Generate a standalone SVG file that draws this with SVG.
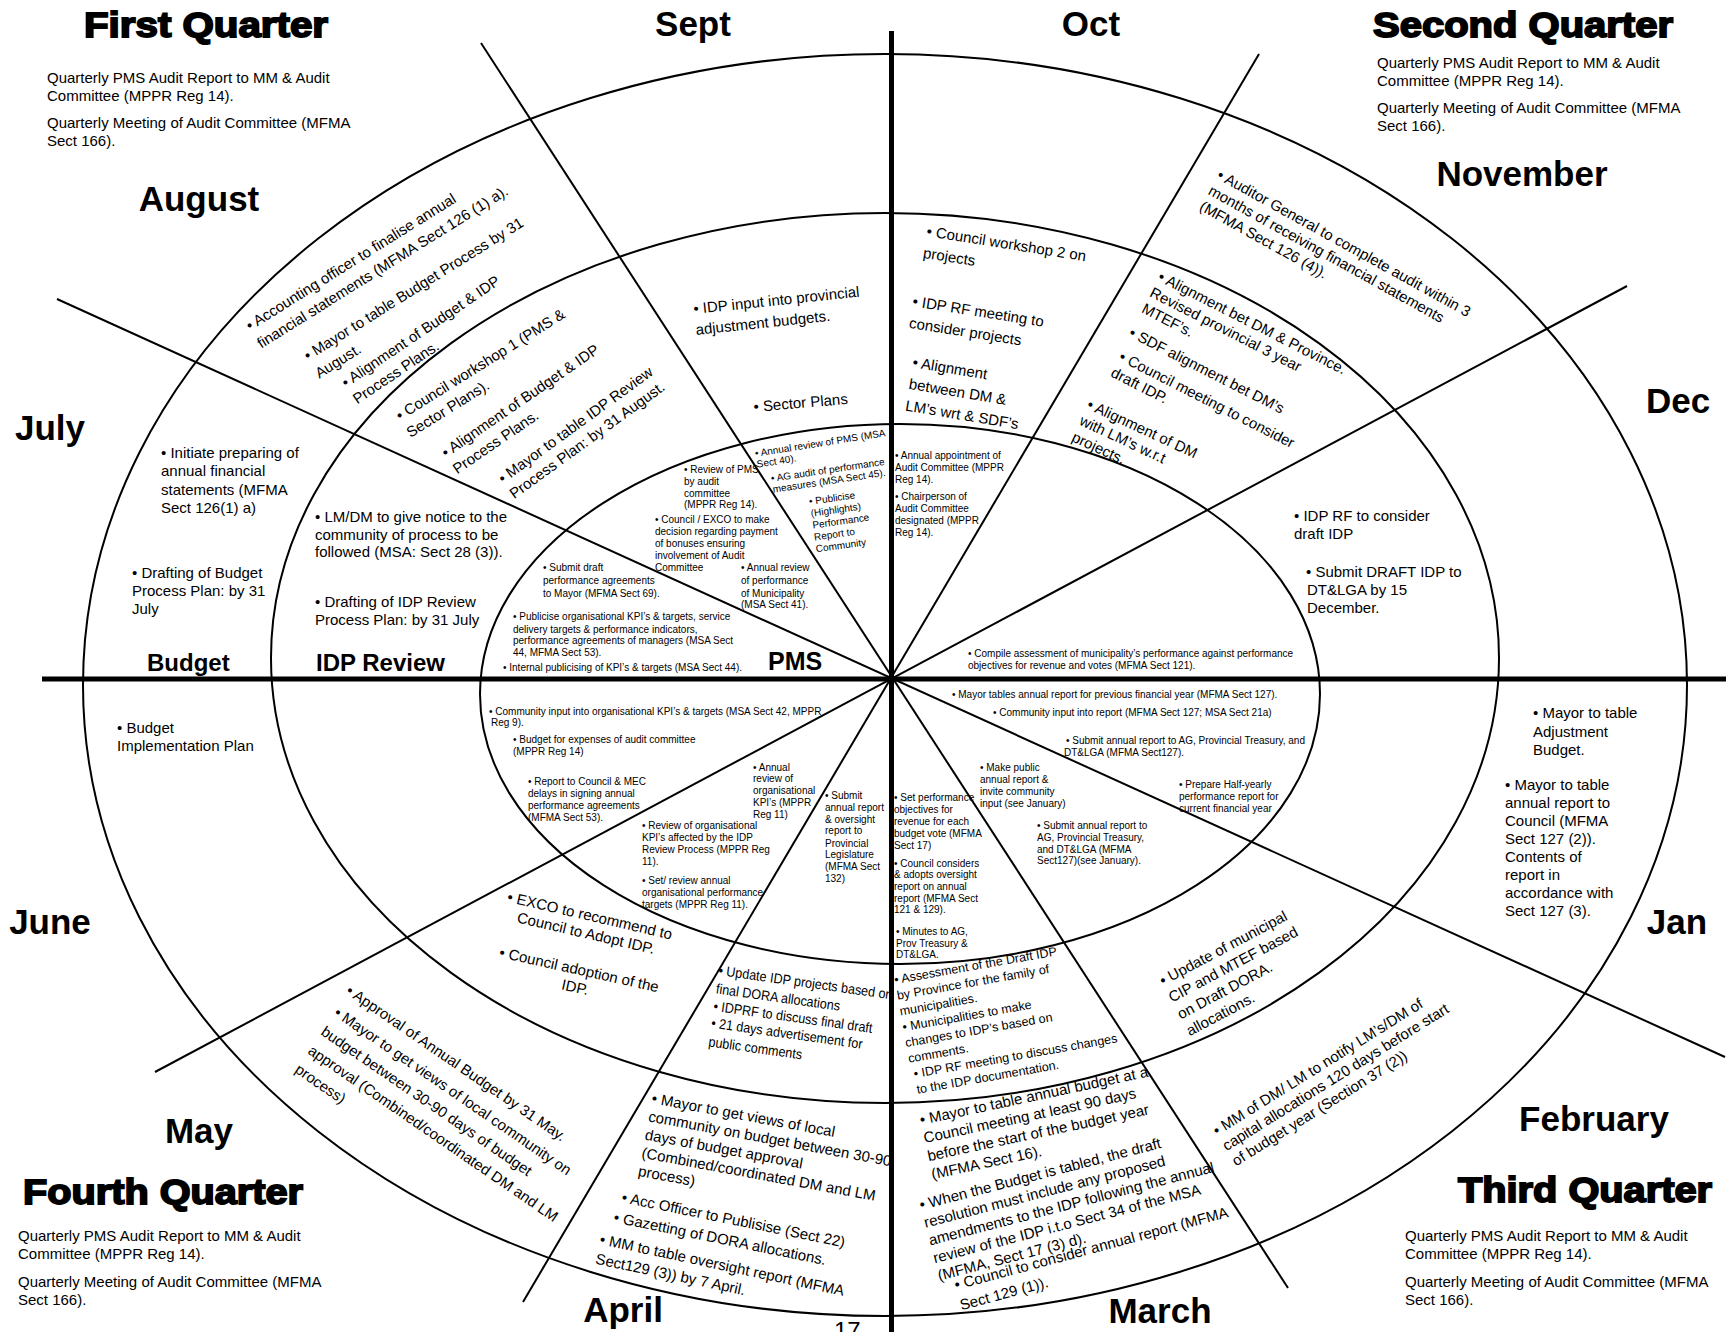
<svg xmlns="http://www.w3.org/2000/svg" width="1726" height="1332" viewBox="0 0 1726 1332">
<style>
text{font-family:"Liberation Sans",Arial,sans-serif;fill:#000}
.q{font-size:35px;font-weight:bold;stroke:#000;stroke-width:1.8}
.m{font-size:35px;font-weight:bold;text-anchor:middle}
.s{font-size:24px;font-weight:bold}
.t{font-size:15px}
.k{font-size:14px}
.c{font-size:12.5px}
.i{font-size:10px}
.mid{text-anchor:middle}
.ax{stroke:#000;stroke-width:5}
.ln{stroke:#000;stroke-width:2;fill:none}
</style>
<rect width="1726" height="1332" fill="#fff"/>
<g id="wheel">
<ellipse class="ln" cx="885" cy="685" rx="802" ry="631"/>
<ellipse class="ln" cx="885" cy="658" rx="614" ry="445"/>
<ellipse class="ln" cx="900" cy="694" rx="420" ry="270"/>
</g>
<g id="connectors">
<line class="ln" x1="481" y1="43" x2="1288" y2="1288"/>
<line class="ln" x1="57" y1="299" x2="1725" y2="1057"/>
<line class="ln" x1="1627" y1="286" x2="155" y2="1072"/>
<line class="ln" x1="1259" y1="54" x2="523" y2="1302"/>
<line class="ax" x1="891.5" y1="31" x2="891.5" y2="1332"/>
<line class="ax" x1="42" y1="679" x2="1726" y2="679"/>
</g>

<g id="quarter1">
<text class="q" x="84" y="37" textLength="244" lengthAdjust="spacingAndGlyphs">First Quarter</text>
<text class="t" x="47" y="83">Quarterly PMS Audit Report to MM &amp; Audit</text>
<text class="t" x="47" y="101">Committee (MPPR Reg 14).</text>
<text class="t" x="47" y="128">Quarterly Meeting of Audit Committee (MFMA</text>
<text class="t" x="47" y="146">Sect 166).</text>
</g>
<g id="quarter2">
<text class="q" x="1373" y="37" textLength="300" lengthAdjust="spacingAndGlyphs">Second Quarter</text>
<text class="t" x="1377" y="68">Quarterly PMS Audit Report to MM &amp; Audit</text>
<text class="t" x="1377" y="86">Committee (MPPR Reg 14).</text>
<text class="t" x="1377" y="113">Quarterly Meeting of Audit Committee (MFMA</text>
<text class="t" x="1377" y="131">Sect 166).</text>
</g>
<g id="quarter4">
<text class="q" x="23" y="1204" textLength="280" lengthAdjust="spacingAndGlyphs">Fourth Quarter</text>
<text class="t" x="18" y="1241">Quarterly PMS Audit Report to MM &amp; Audit</text>
<text class="t" x="18" y="1259">Committee (MPPR Reg 14).</text>
<text class="t" x="18" y="1287">Quarterly Meeting of Audit Committee (MFMA</text>
<text class="t" x="18" y="1305">Sect 166).</text>
</g>
<g id="quarter3">
<text class="q" x="1458" y="1202" textLength="254" lengthAdjust="spacingAndGlyphs">Third Quarter</text>
<text class="t" x="1405" y="1241">Quarterly PMS Audit Report to MM &amp; Audit</text>
<text class="t" x="1405" y="1259">Committee (MPPR Reg 14).</text>
<text class="t" x="1405" y="1287">Quarterly Meeting of Audit Committee (MFMA</text>
<text class="t" x="1405" y="1305">Sect 166).</text>
</g>

<g id="months">
<text class="m" x="693" y="36">Sept</text>
<text class="m" x="1091" y="36">Oct</text>
<text class="m" x="199" y="211">August</text>
<text class="m" x="1522" y="186">November</text>
<text class="m" x="50" y="440">July</text>
<text class="m" x="1678" y="413">Dec</text>
<text class="m" x="50" y="934">June</text>
<text class="m" x="1677" y="934">Jan</text>
<text class="m" x="199" y="1143">May</text>
<text class="m" x="1594" y="1131">February</text>
<text class="m" x="623" y="1322">April</text>
<text class="m" x="1160" y="1323">March</text>
</g>

<g id="sections">
<text class="s" x="147" y="671">Budget</text>
<text class="s" x="316" y="671">IDP Review</text>
<text class="s" x="768" y="670" style="font-size:25px">PMS</text>
</g>

<g id="aug-outer">
<text class="t" transform="translate(250,331) rotate(-32)"><tspan x="0" y="0">• Accounting officer to finalise annual</tspan><tspan x="0" y="21">financial statements (MFMA Sect 126 (1) a).</tspan></text>
<text class="t" transform="translate(308,361) rotate(-32)"><tspan x="0" y="0">• Mayor to table Budget Process by 31</tspan><tspan x="0" y="21">August.</tspan></text>
<text class="t" transform="translate(346,388) rotate(-34)"><tspan x="0" y="0">• Alignment of Budget &amp; IDP</tspan><tspan x="0" y="20">Process Plans.</tspan></text>
</g>
<g id="aug-middle">
<text class="t" transform="translate(400,421) rotate(-32)"><tspan x="0" y="0">• Council workshop 1 (PMS &amp;</tspan><tspan x="0" y="20">Sector Plans).</tspan></text>
<text class="t" transform="translate(446,458) rotate(-34.5)"><tspan x="0" y="0">• Alignment of Budget &amp; IDP</tspan><tspan x="0" y="20">Process Plans.</tspan></text>
<text class="t" transform="translate(503,484) rotate(-36)"><tspan x="0" y="0">• Mayor to table IDP Review</tspan><tspan x="0" y="19">Process Plan: by 31 August.</tspan></text>
</g>
<g id="sept-middle">
<text class="t" transform="translate(694,314) rotate(-6)"><tspan x="0" y="0">• IDP input into provincial</tspan><tspan x="0" y="21">adjustment budgets.</tspan></text>
<text class="t" transform="translate(754,412) rotate(-5)">• Sector Plans</text>
</g>
<g id="oct-middle">
<text class="t" transform="translate(926,236) rotate(9)"><tspan x="0" y="0">• Council workshop 2 on</tspan><tspan x="0" y="22">projects</tspan></text>
<text class="t" transform="translate(912,306) rotate(9)"><tspan x="0" y="0">• IDP RF meeting to</tspan><tspan x="0" y="22">consider projects</tspan></text>
<text class="t" transform="translate(912,367) rotate(9.5)"><tspan x="0" y="0">• Alignment</tspan><tspan x="0" y="22">between DM &amp;</tspan><tspan x="0" y="44">LM’s wrt &amp; SDF’s</tspan></text>
</g>
<g id="nov-outer">
<text class="t" transform="translate(1216,178) rotate(29)"><tspan x="0" y="0">• Auditor General to complete audit within 3</tspan><tspan x="0" y="18">months of receiving financial statements</tspan><tspan x="0" y="36">(MFMA Sect 126 (4)).</tspan></text>
</g>
<g id="nov-middle">
<text class="t" transform="translate(1157,280) rotate(27)"><tspan x="0" y="0">• Alignment bet DM &amp; Province.</tspan><tspan x="0" y="18">Revised provincial 3 year</tspan><tspan x="0" y="36">MTEF’s.</tspan></text>
<text class="t" transform="translate(1128,336) rotate(27)">• SDF alignment bet DM’s</text>
<text class="t" transform="translate(1118,360) rotate(27)"><tspan x="0" y="0">• Council meeting to consider</tspan><tspan x="0" y="18">draft IDP.</tspan></text>
<text class="t" transform="translate(1086,408) rotate(25)"><tspan x="0" y="0">• Alignment of DM</tspan><tspan x="0" y="18">with LM’s w.r.t</tspan><tspan x="0" y="36">projects.</tspan></text>
</g>
<g id="dec-middle">
<text class="t" x="1294" y="521">• IDP RF to consider</text>
<text class="t" x="1294" y="539">draft IDP</text>
<text class="t" x="1306" y="577">• Submit DRAFT IDP to</text>
<text class="t" x="1307" y="595">DT&amp;LGA by 15</text>
<text class="t" x="1307" y="613">December.</text>
</g>
<g id="jan-outer">
<text class="t" x="1533" y="718">• Mayor to table</text>
<text class="t" x="1533" y="737">Adjustment</text>
<text class="t" x="1533" y="755">Budget.</text>
<text class="t" x="1505" y="790">• Mayor to table</text>
<text class="t" x="1505" y="808">annual report to</text>
<text class="t" x="1505" y="826">Council (MFMA</text>
<text class="t" x="1505" y="844">Sect 127 (2)).</text>
<text class="t" x="1505" y="862">Contents of</text>
<text class="t" x="1505" y="880">report in</text>
<text class="t" x="1505" y="898">accordance with</text>
<text class="t" x="1505" y="916">Sect 127 (3).</text>
</g>
<g id="feb-middle">
<text class="t" transform="translate(1163,986) rotate(-28)"><tspan x="0" y="0">• Update of municipal</tspan><tspan x="0" y="19">CIP and MTEF based</tspan><tspan x="0" y="38">on Draft DORA.</tspan><tspan x="0" y="57">allocations.</tspan></text>
</g>
<g id="feb-outer">
<text class="t" transform="translate(1217,1136) rotate(-32)"><tspan x="0" y="0">• MM of DM/ LM to notify LM’s/DM of</tspan><tspan x="0" y="18">capital allocations 120 days before start</tspan><tspan x="0" y="36">of budget year (Section 37 (2))</tspan></text>
</g>
<g id="mar-outer">
<text class="t" transform="translate(921,1125) rotate(-12)"><tspan x="0" y="0">• Mayor to table annual budget at a</tspan><tspan x="0" y="18.5">Council meeting at least 90 days</tspan><tspan x="0" y="37">before the start of the budget year</tspan><tspan x="0" y="55.5">(MFMA Sect 16).</tspan></text>
<text class="t" transform="translate(921,1210) rotate(-14.5)"><tspan x="0" y="0">• When the Budget is tabled, the draft</tspan><tspan x="0" y="18.3">resolution must include any proposed</tspan><tspan x="0" y="36.6">amendments to the IDP following the annual</tspan><tspan x="0" y="55">review of the IDP i.t.o Sect 34 of the MSA</tspan><tspan x="0" y="73">(MFMA, Sect 17 (3) d).</tspan></text>
<text class="t" transform="translate(956,1290) rotate(-15)"><tspan x="0" y="0">• Council to consider annual report (MFMA</tspan><tspan x="0" y="21">Sect 129 (1)).</tspan></text>
</g>
<g id="mar-middle">
<text class="c" transform="translate(895,984) rotate(-10)"><tspan x="0" y="0">• Assessment of the Draft IDP</tspan><tspan x="0" y="16">by Province for the family of</tspan><tspan x="0" y="32">municipalities.</tspan><tspan x="0" y="48">• Municipalities to make</tspan><tspan x="0" y="64">changes to IDP’s based on</tspan><tspan x="0" y="80">comments.</tspan><tspan x="3" y="96">• IDP RF meeting to discuss changes</tspan><tspan x="3" y="112">to the IDP documentation.</tspan></text>
</g>
<g id="apr-middle">
<text class="k" transform="translate(718,975) rotate(8) scale(0.9,1)"><tspan x="0" y="0">• Update IDP projects based on</tspan><tspan x="0" y="18.5">final DORA allocations</tspan><tspan x="0" y="36">• IDPRF to discuss final draft</tspan><tspan x="0" y="53">• 21 days advertisement for</tspan><tspan x="0" y="72">public comments</tspan></text>
</g>
<g id="apr-outer">
<text class="t" transform="translate(651,1103) rotate(10.5)"><tspan x="0" y="0">• Mayor to get views of local</tspan><tspan x="0" y="18.5">community on budget between 30-90</tspan><tspan x="0" y="37">days of budget approval</tspan><tspan x="0" y="55.5">(Combined/coordinated DM and LM</tspan><tspan x="0" y="74">process)</tspan></text>
<text class="t" transform="translate(621,1202) rotate(11.5)">• Acc Officer to Publisise (Sect 22)</text>
<text class="t" transform="translate(613,1222) rotate(11.5)">• Gazetting of DORA allocations.</text>
<text class="t" transform="translate(599,1244) rotate(12)"><tspan x="0" y="0">• MM to table oversight report (MFMA</tspan><tspan x="0" y="20">Sect129 (3)) by 7 April.</tspan></text>
</g>
<g id="may-outer">
<text class="t" transform="translate(345,993) rotate(34.5)">• Approval of Annual Budget by 31 May.</text>
<text class="t" transform="translate(333,1015) rotate(34.5)"><tspan x="0" y="0">• Mayor to get views of local community on</tspan><tspan x="0" y="23">budget between 30-90 days of budget</tspan><tspan x="0" y="46">approval (Combined/coordinated DM and LM</tspan><tspan x="0" y="69">process)</tspan></text>
</g>
<g id="may-middle">
<text class="t mid" transform="translate(504,901) rotate(13)"><tspan x="87" y="0">• EXCO to recommend to</tspan><tspan x="87" y="18">Council to Adopt IDP.</tspan></text>
<text class="t mid" transform="translate(494,956) rotate(12.5)"><tspan x="86" y="0">• Council adoption of the</tspan><tspan x="86" y="18">IDP.</tspan></text>
</g>
<g id="july-outer">
<text class="t" x="161" y="458">• Initiate preparing of</text>
<text class="t" x="161" y="476">annual financial</text>
<text class="t" x="161" y="495">statements (MFMA</text>
<text class="t" x="161" y="513">Sect 126(1) a)</text>
<text class="t" x="132" y="578">• Drafting of Budget</text>
<text class="t" x="132" y="596">Process Plan: by 31</text>
<text class="t" x="132" y="614">July</text>
</g>
<g id="july-middle">
<text class="t" x="315" y="522">• LM/DM to give notice to the</text>
<text class="t" x="315" y="540">community of process to be</text>
<text class="t" x="315" y="557">followed (MSA: Sect 28 (3)).</text>
<text class="t" x="315" y="607">• Drafting of IDP Review</text>
<text class="t" x="315" y="625">Process Plan: by 31 July</text>
</g>
<g id="june-outer">
<text class="t" x="117" y="733">• Budget</text>
<text class="t" x="117" y="751">Implementation Plan</text>
</g>

<g id="pms-top-left">
<text class="i" transform="translate(755.6,456.8) rotate(-9)"><tspan x="0" y="0">• Annual review of PMS (MSA</tspan><tspan x="0" y="11">Sect 40).</tspan></text>
<text class="i" transform="translate(771.6,481.8) rotate(-8.5)"><tspan x="0" y="0">• AG audit of performance</tspan><tspan x="0" y="11">measures (MSA Sect 45).</tspan></text>
<text class="i" transform="translate(809.6,504.8) rotate(-8)"><tspan x="0" y="0">• Publicise</tspan><tspan x="0" y="12">(Highlights)</tspan><tspan x="0" y="24">Performance</tspan><tspan x="0" y="36">Report to</tspan><tspan x="0" y="48">Community</tspan></text>
<text class="i"><tspan x="684" y="473">• Review of PMS</tspan><tspan x="684" y="485">by audit</tspan><tspan x="684" y="497">committee</tspan><tspan x="684" y="508">(MPPR Reg 14).</tspan></text>
<text class="i"><tspan x="655" y="523">• Council / EXCO to make</tspan><tspan x="655" y="535">decision regarding payment</tspan><tspan x="655" y="547">of bonuses ensuring</tspan><tspan x="655" y="559">involvement of Audit</tspan><tspan x="655" y="571">Committee</tspan></text>
<text class="i"><tspan x="543" y="571">• Submit draft</tspan><tspan x="543" y="584">performance agreements</tspan><tspan x="543" y="597">to Mayor (MFMA Sect 69).</tspan></text>
<text class="i"><tspan x="741" y="571">• Annual review</tspan><tspan x="741" y="584">of performance</tspan><tspan x="741" y="597">of Municipality</tspan><tspan x="741" y="608">(MSA Sect 41).</tspan></text>
<text class="i"><tspan x="513" y="620">• Publicise organisational KPI’s &amp; targets, service</tspan><tspan x="513" y="633">delivery targets &amp; performance indicators,</tspan><tspan x="513" y="644">performance agreements of managers (MSA Sect</tspan><tspan x="513" y="656">44, MFMA Sect 53).</tspan></text>
<text class="i" x="503" y="671">• Internal publicising of KPI’s &amp; targets (MSA Sect 44).</text>
</g>
<g id="pms-top-right">
<text class="i"><tspan x="895" y="459">• Annual appointment of</tspan><tspan x="895" y="471">Audit Committee (MPPR</tspan><tspan x="895" y="483">Reg 14).</tspan></text>
<text class="i"><tspan x="895" y="500">• Chairperson of</tspan><tspan x="895" y="512">Audit Committee</tspan><tspan x="895" y="524">designated (MPPR</tspan><tspan x="895" y="536">Reg 14).</tspan></text>
<text class="i"><tspan x="968" y="657">• Compile assessment of municipality’s performance against performance</tspan><tspan x="968" y="669">objectives for revenue and votes (MFMA Sect 121).</tspan></text>
</g>
<g id="pms-bottom-left">
<text class="i"><tspan x="489" y="715">• Community input into organisational KPI’s &amp; targets (MSA Sect 42, MPPR</tspan><tspan x="491" y="726">Reg 9).</tspan></text>
<text class="i"><tspan x="513" y="743">• Budget for expenses of audit committee</tspan><tspan x="513" y="755">(MPPR Reg 14)</tspan></text>
<text class="i"><tspan x="528" y="785">• Report to Council &amp; MEC</tspan><tspan x="528" y="797">delays in signing annual</tspan><tspan x="528" y="809">performance agreements</tspan><tspan x="528" y="821">(MFMA Sect 53).</tspan></text>
<text class="i"><tspan x="753" y="771">• Annual</tspan><tspan x="753" y="782">review of</tspan><tspan x="753" y="794">organisational</tspan><tspan x="753" y="806">KPI’s (MPPR</tspan><tspan x="753" y="818">Reg 11)</tspan></text>
<text class="i"><tspan x="642" y="829">• Review of organisational</tspan><tspan x="642" y="841">KPI’s affected by the IDP</tspan><tspan x="642" y="853">Review Process (MPPR Reg</tspan><tspan x="642" y="865">11).</tspan></text>
<text class="i"><tspan x="642" y="884">• Set/ review annual</tspan><tspan x="642" y="896">organisational performance</tspan><tspan x="642" y="908">targets (MPPR Reg 11).</tspan></text>
<text class="i"><tspan x="825" y="799">• Submit</tspan><tspan x="825" y="811">annual report</tspan><tspan x="825" y="823">&amp; oversight</tspan><tspan x="825" y="834">report to</tspan><tspan x="825" y="847">Provincial</tspan><tspan x="825" y="858">Legislature</tspan><tspan x="825" y="870">(MFMA Sect</tspan><tspan x="825" y="882">132)</tspan></text>
</g>
<g id="pms-bottom-right">
<text class="i" x="952" y="698">• Mayor tables annual report for previous financial year (MFMA Sect 127).</text>
<text class="i" x="993" y="716">• Community input into report (MFMA Sect 127; MSA Sect 21a)</text>
<text class="i"><tspan x="1066" y="744">• Submit annual report to AG, Provincial Treasury, and</tspan><tspan x="1064" y="756">DT&amp;LGA (MFMA Sect127).</tspan></text>
<text class="i"><tspan x="980" y="771">• Make public</tspan><tspan x="980" y="783">annual report &amp;</tspan><tspan x="980" y="795">invite community</tspan><tspan x="980" y="807">input (see January)</tspan></text>
<text class="i"><tspan x="1179" y="788">• Prepare Half-yearly</tspan><tspan x="1179" y="800">performance report for</tspan><tspan x="1179" y="812">current financial year</tspan></text>
<text class="i"><tspan x="894" y="801">• Set performance</tspan><tspan x="894" y="813">objectives for</tspan><tspan x="894" y="825">revenue for each</tspan><tspan x="894" y="837">budget vote (MFMA</tspan><tspan x="894" y="849">Sect 17)</tspan></text>
<text class="i"><tspan x="894" y="867">• Council considers</tspan><tspan x="894" y="878">&amp; adopts oversight</tspan><tspan x="894" y="890">report on annual</tspan><tspan x="894" y="902">report (MFMA Sect</tspan><tspan x="894" y="913">121 &amp; 129).</tspan></text>
<text class="i"><tspan x="1037" y="829">• Submit annual report to</tspan><tspan x="1037" y="841">AG, Provincial Treasury,</tspan><tspan x="1037" y="853">and DT&amp;LGA (MFMA</tspan><tspan x="1037" y="864">Sect127)(see January).</tspan></text>
<text class="i"><tspan x="896" y="935">• Minutes to AG,</tspan><tspan x="896" y="947">Prov Treasury &amp;</tspan><tspan x="896" y="958">DT&amp;LGA.</tspan></text>
</g>
<g id="page-number">
<text x="834" y="1339" style="font-size:24px">17</text>
</g>
</svg>
